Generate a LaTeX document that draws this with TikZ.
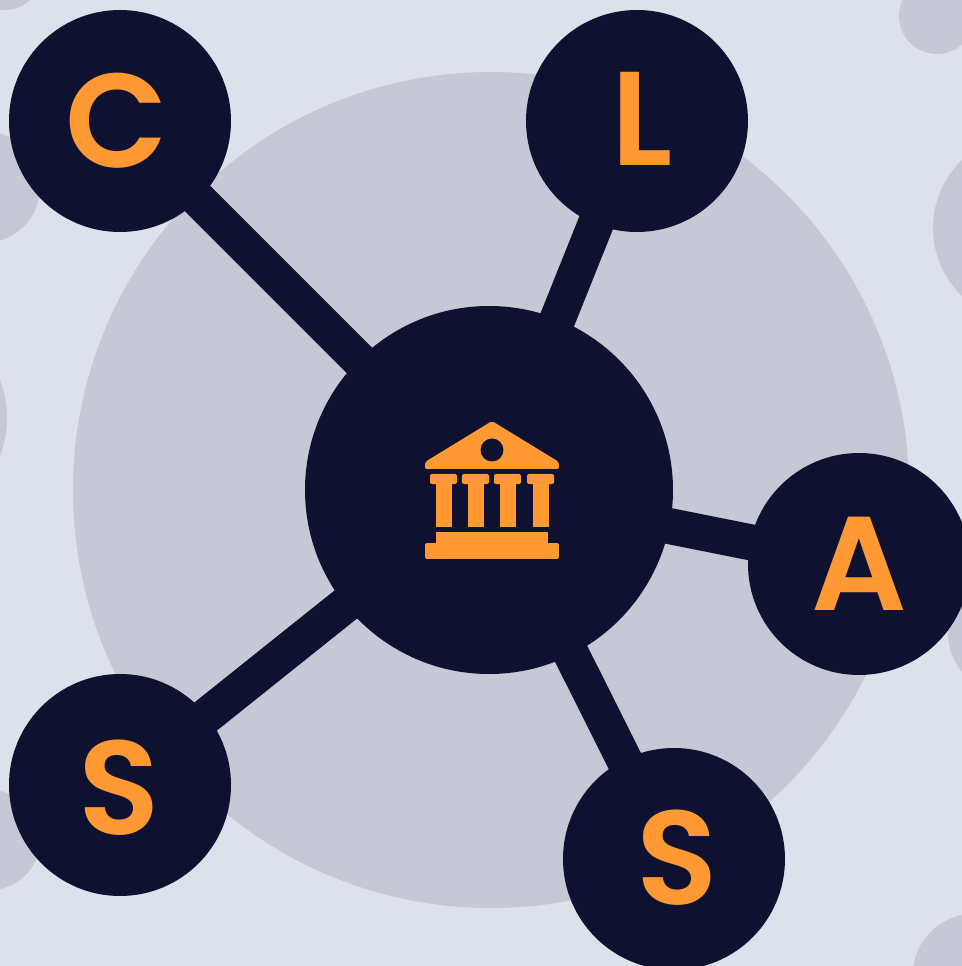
\documentclass[tikz,border=0pt]{standalone}
\usepackage{fontspec}
\newfontfamily\letterfont{Poppins SemiBold}
\usepackage{tikz}

\definecolor{paper}{HTML}{DDE1EB}
\definecolor{blob}{HTML}{C6C9D5}
\definecolor{navy}{HTML}{0E1230}
\definecolor{amber}{HTML}{FF9933}

\begin{document}
\begin{tikzpicture}[spot/.style = {fill=blob, circle, inner sep=0pt},
                    main/.style = {fill=navy, circle, inner sep=0pt, minimum size=2.22cm},
                    letter/.style = {text=amber, font=\fontsize{38}{38}\letterfont},
                    link/.style = {draw=navy, line width=0.36cm},
                    part/.style = {fill=amber, rounded corners=0.02cm}]
                \useasboundingbox (0, 0) rectangle (9.62, 9.66);
                \fill[paper] (0, 0) rectangle (9.62, 9.66);

                \clip (0, 0) rectangle (9.62, 9.66);
                \node[spot, minimum size=8.36cm] at (4.91, 4.76) (back) {};
                \node[spot, minimum size=1.12cm] at (-0.16, 7.79) (spotA) {};
                \node[spot, minimum size=2.14cm] at (-1, 5.48) (spotB) {};
                \node[spot, minimum size=1cm] at (-0.1, 1.26) (spotC) {};
                \node[spot, minimum size=0.76cm] at (9.37, 9.5) (spotD) {};
                \node[spot, minimum size=1.88cm] at (10.27, 7.38) (spotE) {};
                \node[spot, minimum size=1.22cm] at (10.09, 3.33) (spotF) {};
                \node[spot, minimum size=1.25cm] at (9.75, -0.1) (spotG) {};
                \node[spot, minimum size=0.72cm] at (0.05, 9.92) (spotH) {};

                \node[main] at (1.2, 8.45) (C) {};
                \node[main] at (6.37, 8.45) (L) {};
                \node[main] at (8.59, 4.02) (A) {};
                \node[main] at (1.2, 1.81) (S) {};
                \node[main] at (6.74, 1.07) (T) {};
                \node[main, minimum size=3.68cm] at (4.89, 4.76) (hub) {};

                \draw [link] (hub.center) -- (C.center);
                \draw [link] (hub.center) -- (L.center);
                \draw [link] (hub.center) -- (A.center);
                \draw [link] (hub.center) -- (S.center);
                \draw [link] (hub.center) -- (T.center);

                \node[letter] at (1.17, 8.45) (textC) {C};
                \node[letter] at (6.42, 8.47) (textL) {L};
                \node[letter] at (8.59, 4.02) (textA) {A};
                \node[letter] at (1.19, 1.78) (textS) {S};
                \node[letter] at (6.77, 1.08) (textT) {S};

                % temple icon
                \fill[part] (4.25, 5.0) -- (4.25, 5.04) -- (4.92, 5.45) -- (5.59, 5.04) -- (5.59, 4.97) -- (4.25, 4.97) -- cycle;
                \node[fill=navy, circle, inner sep=0pt, minimum size=0.23cm] at (4.92, 5.16) (round) {};
                \foreach \x in {4.30, 4.62, 4.94, 5.27} {
                    \fill[part] (\x, 4.92) rectangle ++(0.27, -0.1);
                    \fill (\x + 0.06, 4.85) [amber] rectangle ++(0.16, -0.46);
                }
                \fill[amber] (4.36, 4.34) rectangle (5.48, 4.23);
                \fill[part] (4.25, 4.23) rectangle (5.59, 4.07);
\end{tikzpicture}
\end{document}
